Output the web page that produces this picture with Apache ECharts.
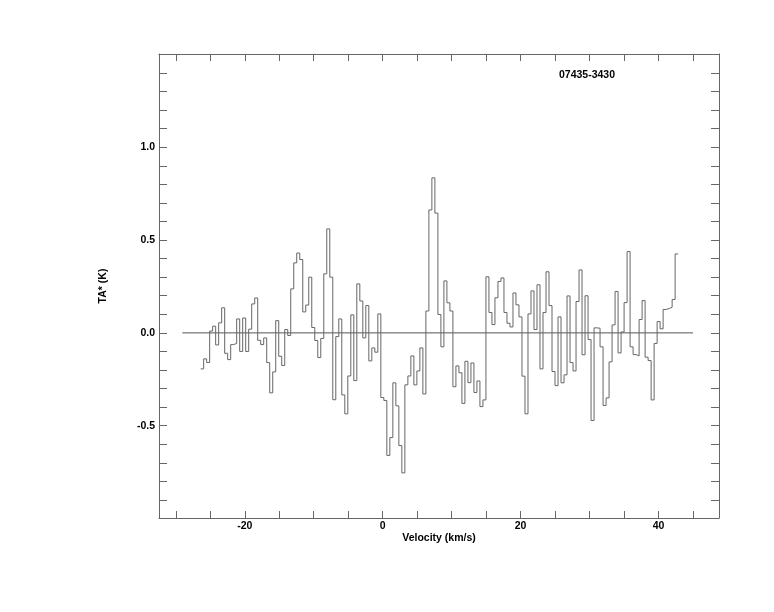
<!DOCTYPE html>
<html><head><meta charset="utf-8">
<script src="https://cdn.jsdelivr.net/npm/echarts@6/dist/echarts.min.js"></script>
<style>html,body{margin:0;padding:0;background:#fff}#c{width:774px;height:612px}</style>
</head><body><div id="c"></div>
<script>
const titleText = '07435-3430';
const xName = 'Velocity (km/s)';
const yName = 'TA* (K)';
const firstEdge = -26.40;   // km/s, left edge of first channel
const chanWidth = 0.4355;   // km/s, channel width
const ta = [
 -0.194,-0.14,-0.16,0.01,0.036,-0.065,0.054,0.135,-0.11,-0.144,
 -0.063,-0.057,0.075,-0.1,0.08,-0.1,0.02,0.156,0.188,-0.04,
 -0.063,-0.027,-0.16,-0.323,-0.21,0.066,-0.126,-0.176,0.018,-0.014,
 0.237,0.377,0.43,0.395,0.113,0.15,0.30,0.029,-0.041,-0.133,
 -0.03,0.318,0.56,0.30,-0.36,-0.02,0.075,-0.334,-0.436,-0.232,
 0.097,-0.257,0.264,0.172,-0.027,0.147,-0.151,-0.081,-0.104,0.102,
 -0.348,-0.364,-0.66,-0.564,-0.269,-0.393,-0.607,-0.754,-0.28,-0.232,
 -0.124,-0.28,-0.205,-0.081,-0.329,0.118,0.662,0.835,0.645,0.099,
 -0.075,0.28,0.162,0.118,-0.29,-0.178,-0.215,-0.38,-0.153,-0.268,
 -0.162,-0.321,-0.259,-0.397,-0.361,0.302,0.11,0.045,0.189,0.277,
 0.296,0.11,0.052,0.032,0.215,0.151,0.086,-0.233,-0.436,0.102,
 0.226,0.018,0.259,-0.194,0.11,0.329,0.147,-0.208,-0.284,0.086,
 -0.269,-0.226,0.199,-0.16,-0.205,0.169,0.339,-0.118,0.2,-0.036,
 -0.472,0.027,0.025,-0.075,-0.391,-0.35,-0.156,0.043,0.223,-0.108,
 0.005,0.163,0.438,-0.075,-0.117,-0.124,0.072,0.174,-0.131,-0.149,
 -0.361,-0.057,0.061,0.022,0.126,0.131,0.138,0.18,0.425
];
const xTicks = [-30,-25,-20,-15,-10,-5,0,5,10,15,20,25,30,35,40,45];
const xLabels = [-20,0,20,40];
const yTicks = [-0.9,-0.8,-0.7,-0.6,-0.5,-0.4,-0.3,-0.2,-0.1,0,0.1,0.2,0.3,0.4,0.5,0.6,0.7,0.8,0.9,1.0,1.1,1.2,1.3,1.4];
const yLabels = [-0.5,0,0.5,1.0];
const baselineRange = [-29.06, 45.0];
const xRange = [-32.44, 48.77];
const yRange = [-0.997, 1.502];

const stepData = ta.map((v,i)=>[firstEdge + i*chanWidth, v]);
stepData.push([firstEdge + ta.length*chanWidth, ta[ta.length-1]]);

const frameColor = '#666';
const font = 'Liberation Sans, Arial, Helvetica, sans-serif';
const lblStyle = {color:'#000', fontSize:10.5, fontWeight:'bold', fontFamily:font};

function xAx(pos, labels){
  return {
    type:'value', position:pos, min:xRange[0], max:xRange[1],
    axisLine:{show:true, onZero:false, lineStyle:{color:frameColor,width:1}},
    axisTick:{show:true, inside:true, length:7, customValues:xTicks, lineStyle:{color:frameColor,width:1}},
    axisLabel: labels ? Object.assign({show:true, customValues:xLabels, margin:3}, lblStyle) : {show:false},
    splitLine:{show:false},
    name: labels ? xName : '', nameLocation:'middle', nameGap:15, nameMoveOverlap:false,
    nameTextStyle: lblStyle
  };
}
function yAx(pos, labels){
  return {
    type:'value', position:pos, min:yRange[0], max:yRange[1],
    axisLine:{show:true, onZero:false, lineStyle:{color:frameColor,width:1}},
    axisTick:{show:true, inside:true, length:8, customValues:yTicks, lineStyle:{color:frameColor,width:1}},
    axisLabel: labels ? Object.assign({show:true, customValues:yLabels, margin:4, formatter:v=>Number(v).toFixed(1)}, lblStyle) : {show:false},
    splitLine:{show:false},
    name: labels ? yName : '', nameLocation:'middle', nameGap:50, nameMoveOverlap:false,
    nameTextStyle: lblStyle
  };
}

const chart = echarts.init(document.getElementById('c'), null, {renderer:'canvas'});
chart.setOption({
  animation:false,
  backgroundColor:'#fff',
  title:{text:titleText, left:559, top:70, padding:0, textStyle:{color:'#000', fontSize:10.5, fontWeight:'bold', fontFamily:font}},
  grid:{left:159, top:54, right:55, bottom:94, containLabel:false},
  xAxis:[xAx('bottom',true), xAx('top',false)],
  yAxis:[yAx('left',true), yAx('right',false)],
  series:[
    {type:'line', xAxisIndex:0, yAxisIndex:0, data:[[baselineRange[0],0],[baselineRange[1],0]],
     showSymbol:false, lineStyle:{color:'#555', width:1}, silent:true},
    {type:'line', xAxisIndex:0, yAxisIndex:0, data:stepData, step:'end',
     showSymbol:false, lineStyle:{color:'#666', width:1}, silent:true}
  ]
});
</script></body></html>
